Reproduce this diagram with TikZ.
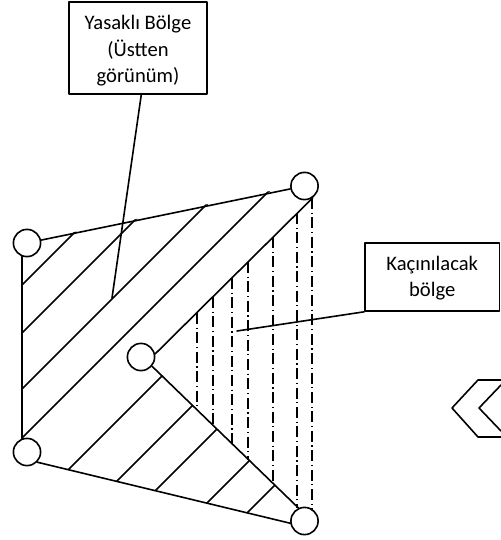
\documentclass[tikz,border=0pt]{standalone}
\usepackage{fontspec}
\setmainfont{Carlito}

\begin{document}
\begin{tikzpicture}[x=0.5pt, y=-0.5pt, line cap=round, line join=round, line width=0.8pt,
  vertex/.style={circle, draw, fill=white, inner sep=0pt, minimum size=13.6pt},
  labelbox/.style={draw, fill=white, inner sep=0pt},
  labeltext/.style={align=center, inner sep=0pt, font=\fontsize{10.3}{13.3}\selectfont},
  avoidline/.style={dash pattern=on 5.5pt off 1.8pt on 0.6pt off 1.8pt, line cap=butt}]
\useasboundingbox (0,0) rectangle (501,540);

\begin{scope}
\clip (22,243) -- (332,178) -- (148,361) -- (321,531) -- (22,458) -- cycle;
\foreach \c in {307,355,411,460,538,598,646,710,760}
  \draw (-50,\c+50) -- (\c+50,-50);
\end{scope}

\foreach \x in {197,213,232,248,273,297,312}
  \draw[avoidline] (\x,510-\x) -- (\x,{366+0.986*(\x-153)});

\node[vertex] (vTL) at (27,243) {};
\node[vertex] (vTR) at (304.5,186) {};
\node[vertex] (vIn) at (141,357) {};
\node[vertex] (vBL) at (27,452) {};
\node[vertex] (vBR) at (304.5,521) {};

\draw (vTL) -- (vTR);
\draw (vTL.250) -- (vBL.110);
\draw (vBL.-45) -- (vBR.189);
\draw (vIn.-40) -- (vBR.115);
\draw (vIn.12) -- (vTR.-55);

\node[labelbox, minimum width=69pt, minimum height=46pt] (zoneBox) at (138,48) {};
\node[labeltext] (zoneText) at (138,51) {Yasaklı Bölge\\(Üstten\\görünüm)};
\node[labelbox, minimum width=67.25pt, minimum height=34pt] (avoidBox) at (432.25,277) {};
\node[labeltext] (avoidText) at (432.25,278) {Kaçınılacak\\bölge};

\coordinate (zoneTip) at (112,298);
\draw (zoneBox.274) -- (zoneTip);
\coordinate (avoidTip) at (237,331);
\draw (avoidTip) -- (avoidBox.south west);

\draw (501,380) -- (478,380) -- (452,408) -- (478,437) -- (501,437);
\draw (501,385) -- (479,408) -- (501,431);
\end{tikzpicture}
\end{document}
